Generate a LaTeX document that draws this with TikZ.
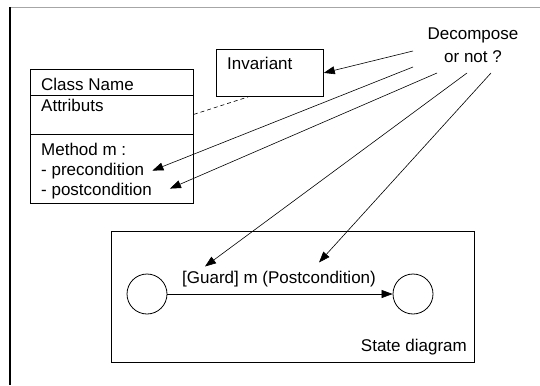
\documentclass[tikz,border=0pt]{standalone}
\usepackage{fontspec}
\setmainfont{Liberation Sans}
\usetikzlibrary{arrows.meta,positioning}
\tikzstyle{box} = [rectangle, draw=black, line width=0.8pt, inner sep=0pt, anchor=north west]
\tikzstyle{txt} = [inner sep=0pt, anchor=base west, font=\fontsize{17}{23}\selectfont]
\tikzstyle{state} = [circle, draw=black, line width=0.8pt, minimum size=40pt, inner sep=0pt]
\tikzstyle{arrow} = [line width=0.6pt,-{Triangle[length=11pt,width=8pt]}]

\begin{document}
\begin{tikzpicture}[x=1pt,y=-1pt]
\useasboundingbox (0,0) rectangle (540,385);
% frame
\draw[gray!70, line width=1.2pt] (540,7.5) -- (10,7.5);
\draw[line width=1.5pt] (10,7.5) -- (10,385);

% class
\node (class) [box, minimum width=163pt, minimum height=134pt] at (30,69) {};
\draw[line width=0.8pt] ([yshift=-26pt]class.north west) -- ([yshift=-26pt]class.north east);
\draw[line width=0.8pt] ([yshift=-65pt]class.north west) -- ([yshift=-65pt]class.north east);
\node (cname) [txt] at (41,91) {Class Name};
\node (attr) [txt] at (41,112) {Attributs};
\node (meth) [txt] at (41,155) {Method m :};
\node (pre) [txt] at (41,175) {- precondition};
\node (post) [txt] at (41,195) {- postcondition};

% invariant
\node (inv) [box, minimum width=107pt, minimum height=47pt] at (216,49) {};
\node (invtxt) [txt] at (227,70) {Invariant};
\draw[line width=0.6pt, dash pattern=on 4pt off 3pt] ([yshift=22pt]class.east) -- ([xshift=-21.5pt]inv.south);

% question
\node (dec) [txt, anchor=center, align=center] at (473,45) {Decompose\\or not ?};
\coordinate (d1) at (413,51);
\coordinate (d2) at (413,67);
\coordinate (d3) at (437,73);
\coordinate (d4) at (467,73);
\coordinate (d5) at (491,73);

% state diagram
\node (sd) [box, minimum width=363pt, minimum height=131pt] at (111,231) {};
\node (s1) [state] at (147,294) {};
\node (s2) [state] at (413,294) {};
\draw[arrow] (s1) -- (s2);
\node (trans) [txt, anchor=base] at (279,283) {[Guard] m (Postcondition)};
\node (sdname) [txt, anchor=base east] at (467,351) {State diagram};

\draw[arrow] (d1) -- (inv.east);
\draw[arrow] (d2) -- ([xshift=8pt]pre.east);
\draw[arrow] (d3) -- ([xshift=18pt,yshift=2pt]post.east);
\draw[arrow] (d4) -- ([xshift=-74pt,yshift=4pt]trans.north);
\draw[arrow] (d5) -- ([xshift=40pt,yshift=8pt]trans.north);
\end{tikzpicture}
\end{document}
